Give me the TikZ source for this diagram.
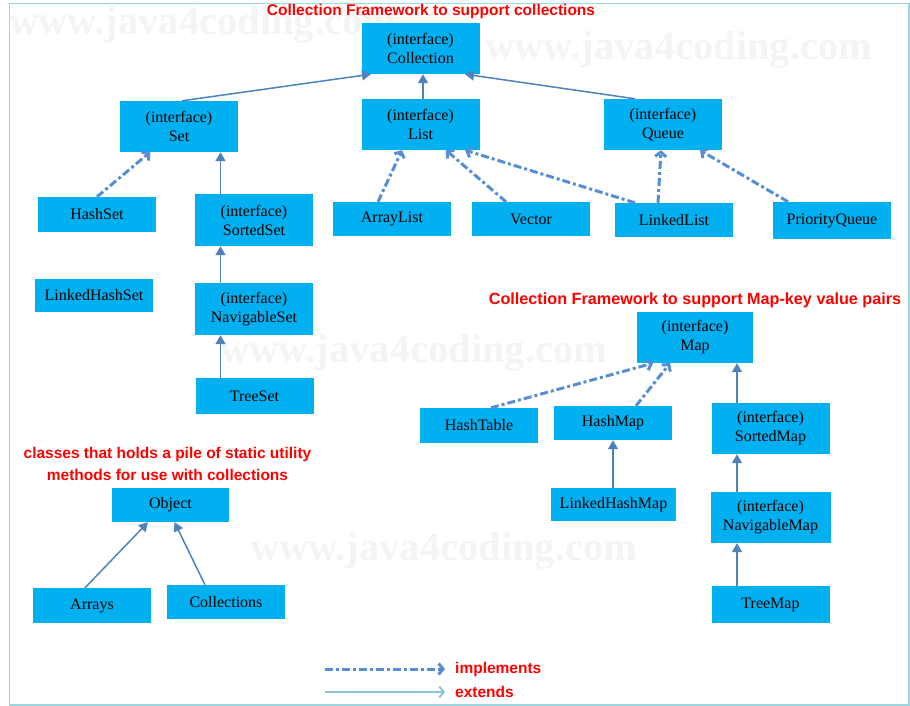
\documentclass[tikz,border=0pt]{standalone}
\usepackage{fontspec}
\setmainfont{Liberation Serif}
\newfontfamily\titlefont{Liberation Sans}
\usetikzlibrary{arrows.meta,calc}
\definecolor{boxfill}{HTML}{00B0F0}
\definecolor{extcol}{HTML}{4F81BD}
\definecolor{impcol}{HTML}{558ED5}
\definecolor{framecol}{HTML}{9CD6DE}
\definecolor{legext}{HTML}{8CC6D6}
\definecolor{wmcol}{HTML}{F4F4F4}
\begin{document}
\begin{tikzpicture}[x=1pt,y=-1pt,
 cls/.style={fill=boxfill, minimum width=118pt, inner sep=0pt, align=center, font=\fontsize{16}{19}\selectfont},
 ext/.style={draw=extcol, line width=1.5pt, -{Triangle[length=9pt,width=10pt]}},
 imp/.style={draw=impcol, line width=3pt, dash pattern=on 8pt off 3pt on 3pt off 3pt, -{Straight Barb[length=4.5pt,width=11pt]}},
 legextarrow/.style={draw=legext, line width=2pt, -{Straight Barb[length=4.5pt,width=11pt]}},
 redtitle/.style={text=red, font=\titlefont\bfseries\fontsize{15.5}{22}\selectfont, inner sep=0pt, align=center},
 wm/.style={text=wmcol, font=\bfseries\fontsize{40.5}{40}\selectfont, inner sep=0pt, anchor=base west}]
\useasboundingbox (0,0) rectangle (910,706);
% watermarks
\node[wm] (wm1) at (9,35) {www.java4coding.com};
\node[wm] (wm2) at (485,60) {www.java4coding.com};
\node[wm] (wm3) at (220,362) {www.java4coding.com};
\node[wm] (wm4) at (250,560) {www.java4coding.com};
% frame
\draw[framecol, line width=1.5pt] (9.5,3.5) rectangle (909,705);
% titles
\node[redtitle] (t1) at (431,11) {Collection Framework to support collections};
\node[redtitle, font=\titlefont\bfseries\fontsize{16.2}{22}\selectfont] (t2) at (695,300) {Collection Framework to support Map-key value pairs};
\node[redtitle] (t3) at (167.5,464) {classes that holds a pile of static utility\\methods for use with collections};
% collection hierarchy
\node[cls, minimum height=51pt] (collection) at (420.5,48.5) {(interface)\\Collection};
\node[cls, minimum height=51pt] (set) at (179,126.5) {(interface)\\Set};
\node[cls, minimum height=51pt] (list) at (420.5,124.5) {(interface)\\List};
\node[cls, minimum height=51pt] (queue) at (663,124.5) {(interface)\\Queue};
\node[cls, minimum height=35pt] (hashset) at (97,214.5) {HashSet};
\node[cls, minimum height=52pt] (sortedset) at (254,220) {(interface)\\SortedSet};
\node[cls, minimum height=33pt] (lhs) at (94,295.5) {LinkedHashSet};
\node[cls, minimum height=52pt] (navset) at (254,309) {(interface)\\NavigableSet};
\node[cls, minimum height=36pt] (treeset) at (254.5,396) {TreeSet};
\node[cls, minimum height=34pt] (arraylist) at (392,219) {ArrayList};
\node[cls, minimum height=34pt] (vector) at (531,219) {Vector};
\node[cls, minimum height=34pt] (linkedlist) at (674,220) {LinkedList};
\node[cls, minimum height=37pt] (pq) at (832,220.5) {PriorityQueue};
% map hierarchy
\node[cls, minimum height=51pt, minimum width=116pt] (map) at (695,337.5) {(interface)\\Map};
\node[cls, minimum height=35pt] (hashtable) at (479,425.5) {HashTable};
\node[cls, minimum height=34pt] (hashmap) at (613,423) {HashMap};
\node[cls, minimum height=51pt] (sortedmap) at (770.5,428.5) {(interface)\\SortedMap};
\node[cls, minimum height=33pt, minimum width=125pt] (lhm) at (613.5,504.5) {LinkedHashMap};
\node[cls, minimum height=51pt, minimum width=120pt] (navmap) at (770.5,517.5) {(interface)\\NavigableMap};
\node[cls, minimum height=37pt] (treemap) at (770.5,604.5) {TreeMap};
% utility
\node[cls, minimum height=34pt, minimum width=117pt] (object) at (170.5,505) {Object};
\node[cls, minimum height=35pt] (arrays) at (92,605.5) {Arrays};
\node[cls, minimum height=34pt] (collections) at (226,602) {Collections};
% extends
\draw[ext] ([xshift=3pt]set.north) -- ([xshift=-49.5pt]collection.south);
\draw[ext] ([xshift=2.5pt]list.north) -- ([xshift=2.5pt]collection.south);
\draw[ext] ([xshift=-28pt]queue.north) -- ([xshift=44.5pt]collection.south);
\draw[ext] ([xshift=-33.5pt]sortedset.north) -- ([xshift=41.5pt]set.south);
\draw[ext] ([xshift=-33.5pt]navset.north) -- ([xshift=-33.5pt]sortedset.south);
\draw[ext] ([xshift=-34pt]treeset.north) -- ([xshift=-33.5pt]navset.south);
\draw[ext] ([xshift=-33.5pt]sortedmap.north) -- ([xshift=42pt]map.south);
\draw[ext] ([xshift=-33.5pt]navmap.north) -- ([xshift=-33.5pt]sortedmap.south);
\draw[ext] ([xshift=-33.5pt]treemap.north) -- ([xshift=-33.5pt]navmap.south);
\draw[ext] ([xshift=-0.5pt]lhm.north) -- (hashmap.south);
\draw[ext] ([xshift=-7pt]arrays.north) -- ([xshift=-22.5pt]object.south);
\draw[ext] ([xshift=-21pt]collections.north) -- ([xshift=4pt]object.south);
% implements
\draw[imp] (hashset.north) -- ([xshift=-29pt]set.south);
\draw[imp] ([xshift=-14pt]arraylist.north) -- ([xshift=-18.5pt]list.south);
\draw[imp] ([xshift=-25pt]vector.north) -- ([xshift=25.5pt]list.south);
\draw[imp] ([xshift=-39pt]linkedlist.north) -- ([xshift=44.5pt]list.south);
\draw[imp] ([xshift=-16pt]linkedlist.north) -- ([xshift=-2pt]queue.south);
\draw[imp] ([xshift=-44pt]pq.north) -- ([xshift=37pt]queue.south);
\draw[imp] ([xshift=12pt]hashtable.north) -- ([xshift=-42pt]map.south);
\draw[imp] ([xshift=23pt]hashmap.north) -- ([xshift=-25pt]map.south);
% legend
\coordinate (impA) at (325,669);
\coordinate (impB) at (445,669);
\coordinate (extA) at (325,692);
\coordinate (extB) at (445,692);
\draw[imp] (impA) -- (impB);
\draw[legextarrow] (extA) -- (extB);
\node[redtitle, anchor=west] (implab) at (455,669) {implements};
\node[redtitle, anchor=west] (extlab) at (455,692) {extends};
\end{tikzpicture}
\end{document}
